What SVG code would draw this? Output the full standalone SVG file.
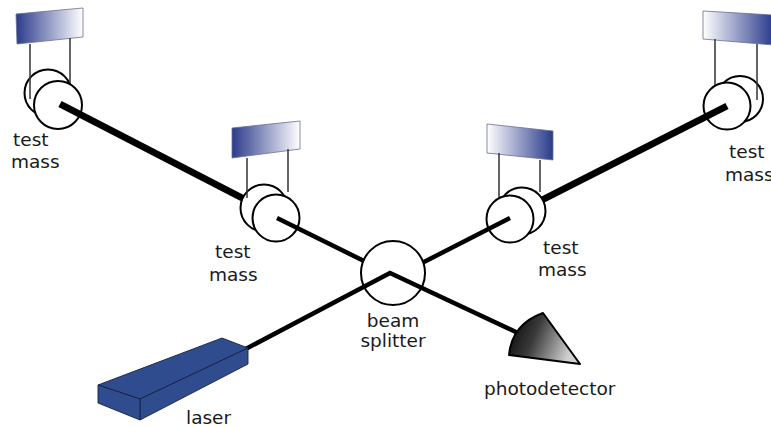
<svg xmlns="http://www.w3.org/2000/svg" width="771" height="427" viewBox="0 0 771 427">
  <defs>
    <linearGradient id="mirrorL" x1="0" y1="0" x2="1" y2="0">
      <stop offset="0" stop-color="#2b3b8c"/>
      <stop offset="1" stop-color="#ffffff"/>
    </linearGradient>
    <linearGradient id="mirrorR" x1="0" y1="0" x2="1" y2="0">
      <stop offset="0" stop-color="#ffffff"/>
      <stop offset="1" stop-color="#2b3b8c"/>
    </linearGradient>
    <linearGradient id="detGrad" x1="0" y1="0" x2="1" y2="0.3">
      <stop offset="0" stop-color="#000000"/>
      <stop offset="0.45" stop-color="#3a3a3a"/>
      <stop offset="1" stop-color="#d0d0d0"/>
    </linearGradient>
    <style>
      .mirror { stroke: #6a6f8f; stroke-width: 0.8; }
      .wire { stroke: #333; stroke-width: 1.5; fill: none; }
      .mass { fill: #fff; stroke: #000; stroke-width: 2; }
      .beam { stroke: #000; fill: none; stroke-linecap: butt; }
      .thick { stroke-width: 7; }
      .thin { stroke-width: 4.5; }
      .label { font-family: "DejaVu Sans", "Noto Sans", sans-serif; font-size: 18.5px; fill: #1a1a1a; }
      .mid { text-anchor: middle; }
    </style>
  </defs>

  <rect width="771" height="427" fill="#fff"/>

  <!-- outer test masses -->
  <g id="mass-outer-left">
    <polygon class="mirror" points="16,14 83,8 83,37 17,44" fill="url(#mirrorL)"/>
    <circle class="mass" cx="48" cy="93" r="23.5"/>
    <line class="wire" x1="30" y1="44" x2="30" y2="99"/>
    <line class="wire" x1="70" y1="38" x2="70" y2="84"/>
    <circle class="mass" cx="58" cy="105" r="24"/>
  </g>
  <g id="mass-outer-right">
    <polygon class="mirror" points="703,11 773,15 773,45 703,39" fill="url(#mirrorR)"/>
    <circle class="mass" cx="740" cy="99" r="23"/>
    <line class="wire" x1="715" y1="39" x2="715" y2="87"/>
    <line class="wire" x1="757" y1="44" x2="757" y2="100"/>
    <circle class="mass" cx="727" cy="106" r="23.5"/>
  </g>

  <!-- long arms -->
  <g id="arms-long">
    <line class="beam thick" x1="60" y1="104" x2="248" y2="201"/>
    <line class="beam thick" x1="540" y1="201" x2="727" y2="106"/>
  </g>

  <!-- inner test masses -->
  <g id="mass-inner-left">
    <polygon class="mirror" points="232,128 300,121 300,149 232,158" fill="url(#mirrorL)"/>
    <circle class="mass" cx="264" cy="208" r="23.5"/>
    <line class="wire" x1="247" y1="158" x2="247" y2="198"/>
    <line class="wire" x1="288" y1="149" x2="288" y2="192"/>
    <circle class="mass" cx="276" cy="218" r="23.5"/>
  </g>
  <g id="mass-inner-right">
    <polygon class="mirror" points="487,124 553,131 553,160 487,153" fill="url(#mirrorR)"/>
    <circle class="mass" cx="522" cy="211" r="23.5"/>
    <line class="wire" x1="499" y1="153" x2="499" y2="198"/>
    <line class="wire" x1="540" y1="160" x2="540" y2="192"/>
    <circle class="mass" cx="510" cy="219" r="23.5"/>
  </g>

  <!-- short arms -->
  <g id="arms-short">
    <line class="beam thin" x1="277" y1="218" x2="368" y2="263"/>
    <line class="beam thin" x1="510" y1="218" x2="420" y2="264"/>
  </g>

  <!-- beam splitter -->
  <g id="beam-splitter">
    <circle class="mass" cx="393" cy="273" r="32"/>
  </g>

  <!-- input and output beams -->
  <g id="beams-io">
    <polyline class="beam thin" points="240,352 390,273 518,333"/>
  </g>

  <!-- laser -->
  <g id="laser">
    <polygon points="98,385 222,338 248,348 140,399" fill="#2f4c8f" stroke="#16203f" stroke-width="0.9"/>
    <polygon points="140,399 248,348 248,364 140,420" fill="#2f4c8f" stroke="#16203f" stroke-width="0.9"/>
    <polygon points="98,385 140,399 140,420 98,403" fill="#2f4c8f" stroke="#16203f" stroke-width="0.9"/>
  </g>

  <!-- photodetector -->
  <g id="photodetector">
    <path d="M509,355 Q512,324 543,313 L580,364 Z" fill="url(#detGrad)" stroke="#000" stroke-width="2" stroke-linejoin="round"/>
  </g>

  <!-- labels -->
  <g id="labels">
    <text class="label" x="13" y="146">test</text>
    <text class="label" x="11" y="168">mass</text>
    <text class="label" x="215" y="258">test</text>
    <text class="label" x="209" y="281">mass</text>
    <text class="label" x="543" y="254">test</text>
    <text class="label" x="538" y="276">mass</text>
    <text class="label" x="729" y="158">test</text>
    <text class="label" x="725" y="181">mass</text>
    <text class="label mid" x="393" y="327">beam</text>
    <text class="label mid" x="393" y="347">splitter</text>
    <text class="label" x="186" y="424">laser</text>
    <text class="label" x="484" y="395">photodetector</text>
  </g>
</svg>
